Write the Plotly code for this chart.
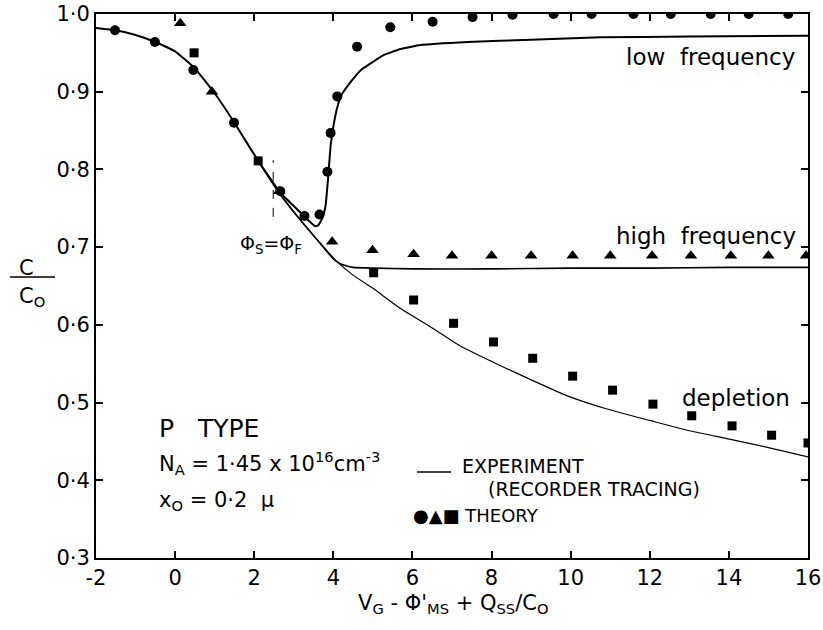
import plotly.graph_objects as go

# ---------------- data ----------------
# experiment (recorder tracings)
low_x = [-2.0, -1.5, -1.0, -0.5, 0.0, 0.5, 1.0, 1.5, 2.1, 2.66, 3.16, 3.4, 3.54, 3.62, 3.72, 3.8, 3.87, 3.93, 4.0, 4.1, 4.2, 4.4, 4.7, 5.27, 5.7, 6.2, 7.4, 9.0, 10.76, 13.0, 16.0]
low_y = [0.982, 0.979, 0.973, 0.964, 0.952, 0.930, 0.898, 0.860, 0.811, 0.770, 0.745, 0.733, 0.727, 0.728, 0.737, 0.752, 0.790, 0.830, 0.855, 0.880, 0.895, 0.910, 0.928, 0.947, 0.955, 0.960, 0.964, 0.967, 0.970, 0.971, 0.972]

high_x = [2.1, 2.6, 3.1, 3.6, 4.0, 4.2, 4.5, 5.0, 6.0, 8.0, 10.0, 12.0, 14.0, 16.0]
high_y = [0.811, 0.772, 0.739, 0.709, 0.685, 0.678, 0.674, 0.673, 0.672, 0.672, 0.673, 0.673, 0.674, 0.674]

depl_x = [2.1, 2.6, 3.1, 3.6, 4.1, 4.5, 5.0, 5.7, 6.5, 7.2, 8.2, 9.1, 9.9, 10.9, 12.0, 12.9, 14.1, 15.0, 16.0]
depl_y = [0.811, 0.772, 0.739, 0.709, 0.681, 0.664, 0.647, 0.621, 0.596, 0.573, 0.548, 0.527, 0.509, 0.492, 0.477, 0.465, 0.452, 0.442, 0.430]

# theory points
circ_x = [-1.52, -0.51, 0.46, 1.49, 2.66, 3.27, 3.65, 3.85, 3.93, 4.1, 4.6, 5.44, 6.51, 7.52, 8.53, 9.57, 10.53, 11.59, 12.53, 13.54, 14.5, 15.5]
circ_y = [0.979, 0.964, 0.928, 0.860, 0.772, 0.740, 0.742, 0.797, 0.847, 0.894, 0.958, 0.983, 0.990, 0.996, 0.999, 1.0, 1.0, 1.0, 1.0, 1.0, 1.0, 1.0]

tri_x = [0.13, 0.93, 2.63, 3.97, 4.99, 6.03, 7.0, 8.0, 9.0, 10.05, 11.0, 12.06, 13.04, 14.05, 15.0, 15.95]
tri_y = [0.988, 0.900, 0.772, 0.707, 0.696, 0.691, 0.689, 0.689, 0.689, 0.689, 0.689, 0.689, 0.689, 0.689, 0.689, 0.689]

sq_x = [0.48, 2.10, 5.02, 6.03, 7.04, 8.05, 9.04, 10.05, 11.06, 12.08, 13.06, 14.08, 15.08, 16.0]
sq_y = [0.950, 0.811, 0.667, 0.632, 0.602, 0.578, 0.557, 0.534, 0.516, 0.498, 0.483, 0.470, 0.458, 0.448]

x_ticks = [-2, 0, 2, 4, 6, 8, 10, 12, 14, 16]
y_ticks = [0.3, 0.4, 0.5, 0.6, 0.7, 0.8, 0.9, 1.0]
y_ticktext = ["0·3", "0·4", "0·5", "0·6", "0·7", "0·8", "0·9", "1·0"]

phi_mark_x = 2.48
phi_mark_y = [0.739, 0.812]

# ---------------- figure ----------------
FONT = "DejaVu Sans"
W, H = 823, 630
L, R, T, B = 96, 15, 14, 72
PW, PH = W - L - R, H - T - B


def px(xp):
    return (xp - L) / PW


def py(yp):
    return (H - B - yp) / PH


fig = go.Figure()
fig.add_trace(go.Scatter(x=low_x, y=low_y, mode="lines", line=dict(color="black", width=2, shape="spline", smoothing=0.3), showlegend=False))
fig.add_trace(go.Scatter(x=high_x, y=high_y, mode="lines", line=dict(color="black", width=1.6, shape="spline", smoothing=0.4), showlegend=False))
fig.add_trace(go.Scatter(x=depl_x, y=depl_y, mode="lines", line=dict(color="black", width=1.2, shape="spline", smoothing=0.6), showlegend=False))
fig.add_trace(go.Scatter(x=circ_x, y=circ_y, mode="markers", marker=dict(symbol="circle", size=10, color="black"), showlegend=False))
fig.add_trace(go.Scatter(x=tri_x, y=tri_y, mode="markers", marker=dict(symbol="triangle-up", size=11, color="black"), showlegend=False))
fig.add_trace(go.Scatter(x=sq_x, y=sq_y, mode="markers", marker=dict(symbol="square", size=9, color="black"), showlegend=False))

axis_common = dict(showline=True, linewidth=2, linecolor="black", mirror="ticks", ticks="inside",
                   ticklen=7, tickwidth=1.5, tickcolor="black", showgrid=False, zeroline=False,
                   tickfont=dict(family=FONT, size=21, color="black"))

fig.update_xaxes(range=[-2, 16], tickvals=x_ticks, ticktext=[str(v) for v in x_ticks], **axis_common)
fig.update_yaxes(range=[0.3, 1.0], tickvals=y_ticks, ticktext=y_ticktext, **axis_common)

ann = []


def add_text(text, x, y, size, xanchor="left", xref="paper", yref="paper", yanchor="middle"):
    ann.append(dict(text=text, x=x, y=y, xref=xref, yref=yref, xanchor=xanchor, yanchor=yanchor,
                    showarrow=False, font=dict(family=FONT, size=size, color="black")))


add_text("low  frequency", px(797), py(57), 23, xanchor="right")
add_text("high  frequency", px(798), py(236), 23, xanchor="right")
add_text("depletion", px(792), py(398), 23, xanchor="right")
add_text("P   TYPE", px(157), py(428), 25)
add_text("N<sub>A</sub> = 1·45 x 10<sup>16</sup>cm<sup>-3</sup>", px(157), py(463), 21)
add_text("x<sub>O</sub> = 0·2  μ", px(157), py(501), 21)
add_text("EXPERIMENT", px(460), py(466), 19)
add_text("(RECORDER TRACING)", px(486), py(489), 19)
add_text("●▲■ THEORY", px(411), py(515), 18)
add_text("Φ<sub>S</sub>=Φ<sub>F</sub>", px(271), py(244), 19, xanchor="center")
add_text("V<sub>G</sub> - Φ'<sub>MS</sub> + Q<sub>SS</sub>/C<sub>O</sub>", px(453), py(589), 21, xanchor="center", yanchor="top")
add_text("C", px(26), py(268), 21, xanchor="center")
add_text("C<sub>O</sub>", px(32), py(297), 21, xanchor="center")

shapes = [
    dict(type="line", xref="paper", yref="paper", x0=px(10), x1=px(55), y0=py(277), y1=py(277),
         line=dict(color="black", width=1.5)),
    dict(type="line", xref="paper", yref="paper", x0=px(417), x1=px(451), y0=py(472), y1=py(472),
         line=dict(color="black", width=1.5)),
    dict(type="line", xref="x", yref="y", x0=phi_mark_x, x1=phi_mark_x, y0=phi_mark_y[0], y1=phi_mark_y[1],
         line=dict(color="black", width=1, dash="dash")),
]

fig.update_layout(width=W, height=H, margin=dict(l=L, r=R, t=T, b=B, autoexpand=False),
                  paper_bgcolor="white", plot_bgcolor="white", annotations=ann, shapes=shapes,
                  font=dict(family=FONT, color="black"))

fig.write_html("out.html", config={"displayModeBar": False},
               post_script="document.body.style.margin='0';document.body.style.overflow='hidden';")
